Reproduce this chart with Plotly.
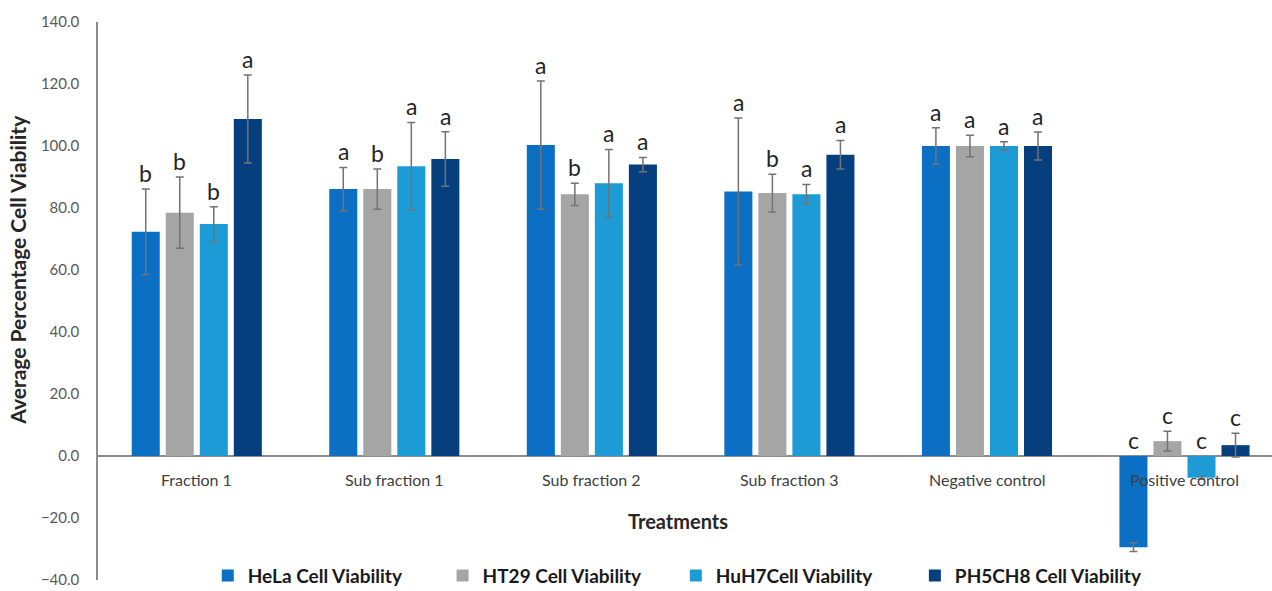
import plotly.graph_objects as go

# Treatments on the x axis
categories = ["Fraction 1", "Sub fraction 1", "Sub fraction 2", "Sub fraction 3",
              "Negative control", "Positive control"]

# Mean viability (%), standard deviation and significance letters per cell line
hela = [72.3, 86.1, 100.3, 85.3, 100.0, -29.4]
hela_err = [13.8, 7.0, 20.7, 23.7, 5.9, 1.4]
hela_sig = ["b", "a", "a", "a", "a", "c"]

ht29 = [78.5, 86.1, 84.4, 84.8, 100.0, 4.8]
ht29_err = [11.5, 6.5, 3.6, 6.1, 3.5, 3.2]
ht29_sig = ["b", "b", "b", "b", "a", "c"]

huh7 = [74.8, 93.5, 88.0, 84.4, 100.0, -7.0]
huh7_err = [5.6, 14.1, 10.9, 3.2, 1.4, 0.5]
huh7_sig = ["b", "a", "a", "a", "a", "c"]

ph5ch8 = [108.7, 95.8, 94.0, 97.2, 100.0, 3.5]
ph5ch8_err = [14.2, 8.8, 2.3, 4.6, 4.5, 3.8]
ph5ch8_sig = ["a", "a", "a", "a", "a", "c"]

series_names = ["HeLa Cell Viability", "HT29 Cell Viability",
                "HuH7Cell Viability", "PH5CH8 Cell Viability"]
colors = ["#0B6FC4", "#A5A5A5", "#1C9BD6", "#063F7E"]
legend_ids = ["legend", "legend2", "legend3", "legend4"]
legend_x = [0.0935, 0.2935, 0.4922, 0.6958]

values = [hela, ht29, huh7, ph5ch8]
errors = [hela_err, ht29_err, huh7_err, ph5ch8_err]
letters = [hela_sig, ht29_sig, huh7_sig, ph5ch8_sig]

FONT = "Lato"
BARGAP = 0.311
BARGROUPGAP = 0.176

fig = go.Figure()
for name, vals, errs, col, lg in zip(series_names, values, errors, colors, legend_ids):
    fig.add_trace(go.Bar(
        x=categories, y=vals, name=name, marker=dict(color=col, line=dict(width=0)),
        error_y=dict(type="data", array=errs, visible=True,
                     color="#737373", thickness=1.5, width=4),
        legend=lg,
    ))

# Significance letters above each bar (at the baseline for negative bars)
n_series = len(values)
slot = (1 - BARGAP) / n_series
annotations = []
for s, (vals, errs, sig) in enumerate(zip(values, errors, letters)):
    offset = -(1 - BARGAP) / 2 + slot * (s + 0.5)
    for i, (v, e, t) in enumerate(zip(vals, errs, sig)):
        top = v + e
        annotations.append(dict(
            x=i + offset, y=top if top > 0 else 0, xref="x", yref="y",
            text=t, showarrow=False, yanchor="bottom", xanchor="center",
            font=dict(family=FONT, size=23, color="#262626"),
        ))

# Category labels sitting just under the zero line
for i, c in enumerate(categories):
    annotations.append(dict(
        x=i, y=0, xref="x", yref="y", text=c, showarrow=False,
        yanchor="middle", xanchor="center", yshift=-23,
        font=dict(family=FONT, size=16, color="#404040"),
    ))

# Axis titles
annotations.append(dict(
    x=0.494, y=-21, xref="paper", yref="y", text="<b>Treatments</b>",
    showarrow=False, xanchor="center", yanchor="middle",
    font=dict(family=FONT, size=20, color="#262626"),
))
annotations.append(dict(
    x=-0.0684, y=0.5556, xref="paper", yref="paper",
    text="<b>Average Percentage Cell Viability</b>", textangle=-90,
    showarrow=False, xanchor="center", yanchor="middle",
    font=dict(family=FONT, size=21, color="#262626"),
))

legend_style = dict(
    orientation="h", yanchor="middle", xanchor="left", y=0.008,
    bgcolor="rgba(0,0,0,0)",
    font=dict(family=FONT, size=19, color="#1a1a1a", weight="bold"),
)
legends = {lg: dict(x=lx, **legend_style) for lg, lx in zip(legend_ids, legend_x)}

fig.update_layout(
    width=1272, height=591,
    margin=dict(l=98, r=0, t=22, b=11, autoexpand=False),
    paper_bgcolor="white", plot_bgcolor="white",
    barmode="group", bargap=BARGAP, bargroupgap=BARGROUPGAP,
    showlegend=True,
    annotations=annotations,
    font=dict(family=FONT),
    xaxis=dict(range=[-0.5, 5.443], showticklabels=False, showgrid=False,
               showline=False, zeroline=False, ticks=""),
    yaxis=dict(range=[-40, 140], dtick=20, tick0=0, tickformat=".1f",
               showgrid=False, showline=True, linecolor="#8C8C8C", linewidth=1.5,
               zeroline=True, zerolinecolor="#8C8C8C", zerolinewidth=1.5,
               ticks="", ticklabelstandoff=14,
               tickfont=dict(family=FONT, size=15, color="#595959")),
    **legends,
)

fig.write_html("out.html")
